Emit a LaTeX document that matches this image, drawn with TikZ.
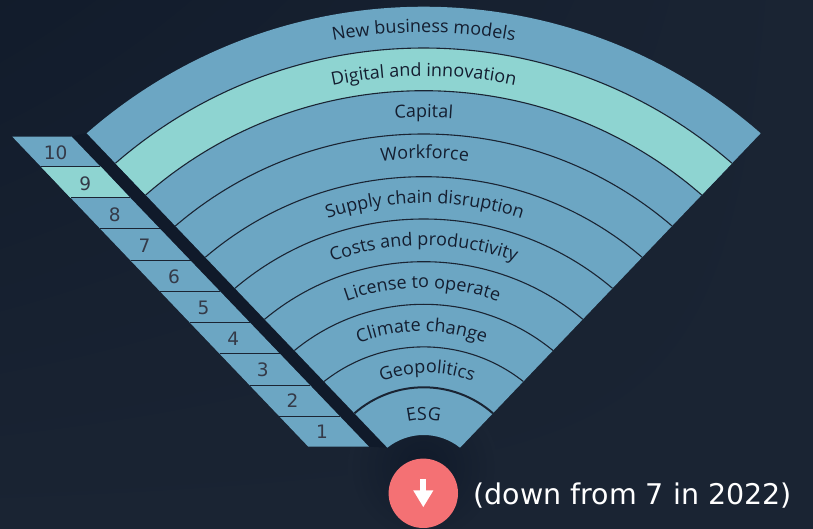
\documentclass[tikz,border=0pt]{standalone}
\usepackage{fontspec}
\setmainfont{Open Sans}
\newfontfamily\rowfont{DejaVu Sans}
\usetikzlibrary{arrows.meta,decorations.text,shadings}
\definecolor{fanblue}{HTML}{6CA6C3}
\definecolor{fanteal}{HTML}{8ED4D1}
\definecolor{fanline}{HTML}{1A2433}
\definecolor{fanink}{HTML}{141E30}
\definecolor{rownum}{HTML}{343A48}
\definecolor{slit}{HTML}{101A2A}
\definecolor{alert}{HTML}{F47174}
\newcommand\bandfont{\fontsize{18}{20}\selectfont\color{fanink}}
% half chord, radius, half angle of an arc given by its top and its end height
\newcommand\fansetup[2]{%
  \pgfmathsetmacro\fanA{(485.7-#2)*0.9563}%
  \pgfmathsetmacro\fanS{#2-#1}%
  \pgfmathsetmacro\fanR{((\fanA/100)^2+(\fanS/100)^2)/(2*\fanS/100)*100}%
  \pgfmathsetmacro\fanH{asin(\fanA/\fanR)}%
}
\newcommand\fanband[5]{%
  \fansetup{#1}{#2}\let\oA\fanA\let\oR\fanR\let\oH\fanH
  \fansetup{#3}{#4}%
  \fill[#5] ({423.7-\oA},{529-#2}) arc[start angle=90+\oH,end angle=90-\oH,radius=\oR]
    -- ({423.7+\fanA},{529-#4}) arc[start angle=90-\fanH,end angle=90+\fanH,radius=\fanR] -- cycle;
}
\begin{document}
\begin{tikzpicture}[x=1pt,y=1pt]
  \tikzset{
    band line/.style={draw=fanline,line width=1.1pt},
    row box/.style={fill=fanblue},
    row line/.style={draw=fanline,line width=1pt},
    row label/.style={text=rownum,font=\rowfont\fontsize{18.5}{21}\selectfont,inner sep=0pt},
    note label/.style={text=white,font=\rowfont\fontsize{28.5}{30}\selectfont,inner sep=0pt,anchor=base west}
  }
  \useasboundingbox (0,0) rectangle (813,529);
  \shade[upper left=slit!85!fanline,upper right=fanline,lower left=fanline,lower right=fanline] (0,0) rectangle (813,529);
  \shade[inner color=slit,outer color=fanline] (423,62) circle (75);
  % dark slit between the two parts
  \fill[slit] (71.7,392.3) -- (86.5,396) -- (386.7,81.3) -- (369,82.3) -- cycle;
  % the fan
  \fanband{6.7}{133.3}{435}{447.7}{fanblue}
  \fanband{48}{163.3}{90.7}{195}{fanteal}
  \foreach \ta/\ea in {48/163.3,90.7/195,134/226,176.7/257.3,219/288.3,261.7/319.3,304.3/350.5,346.9/381.5}{
    \fansetup{\ta}{\ea}
    \draw[band line] ({423.7-\fanA},{529-\ea}) arc[start angle=90+\fanH,end angle=90-\fanH,radius=\fanR];
  }
  \fansetup{387.3}{413.3}
  \draw[band line,line width=2pt] ({423.7-\fanA},{529-413.3}) arc[start angle=90+\fanH,end angle=90-\fanH,radius=\fanR];
  % labels on the fan
  \foreach \tb/\eb/\dx/\lbl in {
    32.4/151.9/0/New business models,
    76/184.5/0/Digital and innovation,
    117.5/214/0/Capital,
    158.5/243.4/1/Workforce,
    203/276.5/1/Supply chain disruption,
    245.5/307.5/0/Costs and productivity,
    288/338.6/-1.5/License to operate,
    331.5/370.5/-2/Climate change,
    373/402/3.5/Geopolitics,
    420/437.6/0/ESG}{
    \fansetup{\tb}{\eb}
    \path[xshift=\dx,decorate,decoration={text along path,text align=center,
        text/.expanded={|\noexpand\bandfont|\lbl}}]
      ({423.7-\fanA},{529-\eb}) arc[start angle=90+\fanH,end angle=90-\fanH,radius=\fanR];
  }
  % the column of ranks
  \fill[row box] (12.3,392.3) -- (71.7,392.3) -- (369,82.3) -- (308.3,82.3) -- cycle;
  \fill[fanteal] (41,362.3) -- (100.9,362.3) -- (130.3,331) -- (70.6,331) -- cycle;
  \foreach \n in {1,...,10}{
    \node[row label] (row\n) at ({322-29.6*(\n-1)},{97.3+31*(\n-1)}) {\n};
  }
  \foreach \y in {112.7,143.7,175,206.3,237.3,268.3,300,331,362.3}{
    \draw[row line] ({12.3+(392.3-\y)*0.9548},\y) -- ({71.7+(392.3-\y)*0.9589},\y);
  }
  % the note under the fan
  \node[circle,fill=alert,minimum size=69.4pt,inner sep=0pt] (badge) at (423.3,35.7) {};
  \coordinate (arrowtop) at (423.3,50);
  \coordinate (arrowtip) at (423.3,21.7);
  \draw[white,line width=6pt,-{Triangle[width=19pt,length=17pt]}] (arrowtop) -- (arrowtip);
  \node[note label] (note) at (473.3,24) {(down from 7 in 2022)};
\end{tikzpicture}
\end{document}
